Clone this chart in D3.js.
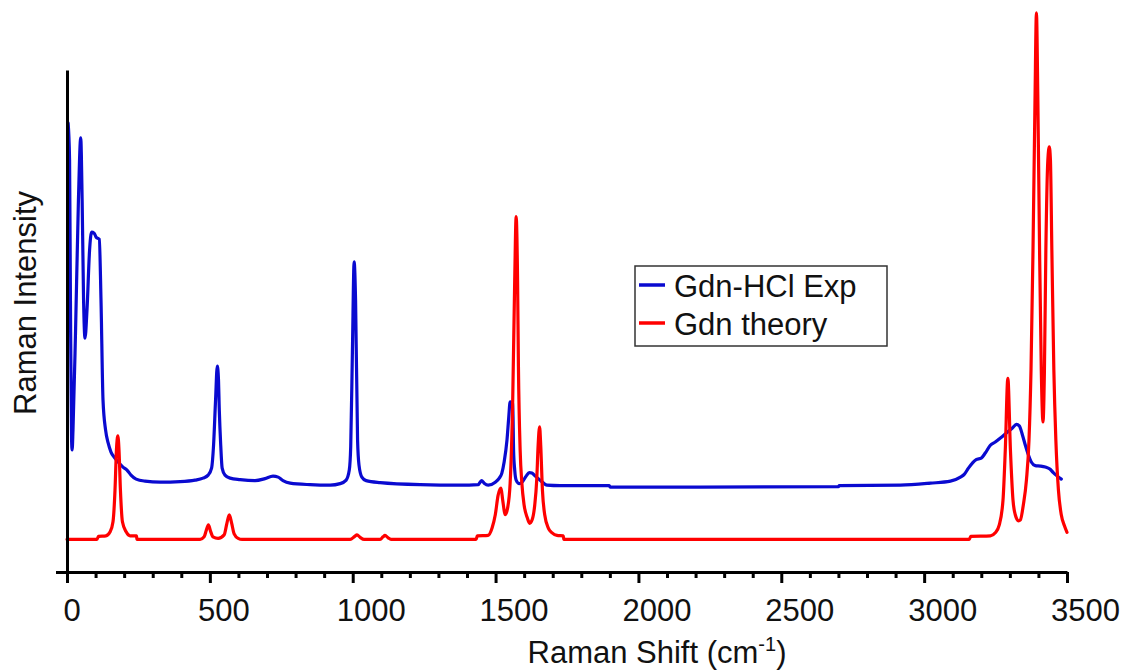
<!DOCTYPE html>
<html>
<head>
<meta charset="utf-8">
<script src="https://cdn.jsdelivr.net/npm/d3@7"></script>
<style>
  html, body { margin: 0; padding: 0; background: #ffffff; }
  svg { display: block; font-family: "Liberation Sans", Arial, sans-serif; }
</style>
</head>
<body>
<svg id="chart" width="1124" height="671"></svg>
<script>
// Measured Raman spectrum of guanidinium chloride: [shift (cm-1), intensity (a.u.)]
const expSpectrum = [
  [4, 89.4], [9, 82.1], [12, 54.2], [16, 26.3], [18, 24.3], [21, 28.3], [30, 48.2],
  [40, 74.1], [48, 86.5], [53, 74.1], [58, 54.2], [63, 46.6], [70, 52.2], [79, 64.1],
  [86, 67.7], [95, 67.5], [102, 66.7], [113, 66.3], [119, 54.2], [126, 34.3], [135, 28.3],
  [144, 25.7], [154, 23.9], [165, 22.9], [179, 21.9], [196, 20.9], [210, 20.3], [224, 19.3],
  [242, 18.5], [273, 18.1], [326, 17.9], [396, 18.0], [448, 18.3], [476, 18.7], [494, 19.3],
  [506, 20.7], [513, 25.3], [520, 34.3], [526, 41.0], [530, 38.6], [533, 32.3], [538, 25.3],
  [543, 20.7], [553, 19.3], [571, 18.7], [606, 18.4], [658, 18.2], [693, 18.6], [721, 19.1],
  [739, 18.9], [756, 18.2], [781, 17.7], [851, 17.4], [921, 17.3], [956, 17.6], [977, 18.3],
  [988, 20.3], [993, 25.0], [999, 44.2], [1005, 61.8], [1010, 54.2], [1017, 26.3], [1022, 21.3],
  [1032, 18.9], [1047, 18.2], [1096, 17.8], [1236, 17.4], [1376, 17.3], [1439, 17.4], [1451, 18.2],
  [1460, 17.7], [1474, 17.3], [1499, 17.9], [1513, 18.7], [1522, 19.7], [1530, 21.9], [1540, 26.3],
  [1546, 30.7], [1551, 33.9], [1560, 33.6], [1563, 24.3], [1567, 20.3], [1572, 18.3], [1583, 17.6],
  [1593, 17.9], [1607, 19.1], [1618, 19.8], [1627, 19.7], [1639, 19.1], [1656, 18.3], [1680, 17.3],
  [1726, 17.2], [1898, 17.2], [1901, 16.9], [2216, 16.9], [2700, 17.0], [2703, 17.2], [2917, 17.3],
  [3022, 17.7], [3092, 18.1], [3127, 18.9], [3141, 19.5], [3155, 20.7], [3182, 22.4], [3200, 22.7],
  [3214, 23.7], [3231, 25.2], [3249, 25.9], [3267, 26.7], [3286, 27.6], [3309, 28.7], [3323, 29.4],
  [3333, 29.1], [3344, 27.3], [3354, 25.3], [3365, 23.3], [3375, 21.9], [3389, 21.2], [3407, 21.1],
  [3424, 20.9], [3440, 20.5], [3452, 19.8], [3466, 19.1], [3480, 18.5]
];

// Calculated Raman spectrum of the guanidinium ion: [shift (cm-1), intensity (a.u.)]
const theorySpectrum = [
  [0, 6.5], [105, 6.5], [110, 7.1], [136, 7.2], [151, 8.0], [161, 10.0], [168, 16.3], [173, 24.3],
  [178, 27.1], [182, 24.3], [187, 16.3], [194, 10.0], [207, 8.0], [221, 7.2], [243, 7.2], [245, 6.5],
  [466, 6.5], [480, 7.0], [487, 8.2], [495, 9.4], [502, 8.2], [511, 7.0], [529, 6.7], [550, 7.4],
  [560, 9.8], [568, 11.4], [576, 9.8], [585, 7.6], [599, 6.7], [613, 6.5], [991, 6.5], [1007, 7.1],
  [1015, 7.4], [1026, 6.9], [1040, 6.5], [1096, 6.5], [1106, 7.0], [1113, 7.3], [1124, 6.8],
  [1134, 6.5], [1432, 6.5], [1436, 7.2], [1474, 7.3], [1488, 8.8], [1499, 11.4], [1509, 15.3],
  [1519, 16.7], [1525, 14.3], [1534, 11.4], [1542, 12.7], [1551, 17.7], [1560, 34.3], [1567, 58.2],
  [1572, 70.8], [1577, 58.2], [1580, 41.0], [1586, 24.3], [1592, 17.7], [1600, 13.3], [1611, 10.8],
  [1619, 9.7], [1628, 10.4], [1637, 13.3], [1644, 18.3], [1649, 25.3], [1654, 28.9], [1658, 25.3],
  [1664, 16.3], [1672, 11.4], [1685, 8.7], [1698, 7.8], [1715, 7.3], [1737, 7.2], [1739, 6.5],
  [3158, 6.5], [3163, 7.1], [3232, 7.2], [3249, 7.8], [3263, 9.4], [3276, 14.3], [3284, 24.3],
  [3293, 38.6], [3302, 24.3], [3311, 14.3], [3319, 11.4], [3330, 10.2], [3337, 10.4], [3347, 13.3],
  [3358, 18.3], [3367, 26.3], [3374, 40.2], [3381, 64.1], [3388, 94.0], [3393, 111.4], [3398, 94.0],
  [3404, 64.1], [3410, 40.2], [3416, 29.9], [3421, 40.2], [3426, 64.1], [3433, 82.1], [3438, 84.7],
  [3442, 82.1], [3447, 64.1], [3454, 40.2], [3461, 26.3], [3470, 16.3], [3480, 11.4], [3491, 9.2],
  [3500, 7.9]
];

const seriesNames = ["Gdn-HCl Exp", "Gdn theory"];
const seriesColors = ["#0a0ad0", "#ff0000"];
const xMajorTicks = [0, 500, 1000, 1500, 2000, 2500, 3000, 3500];
const xMinorTicks = d3.range(0, 3501, 100).filter(v => v % 500 !== 0);
const xTitle = "Raman Shift (cm";
const xTitleSup = "-1";
const yTitle = "Raman Intensity";

const svg = d3.select("#chart");

const x = d3.scaleLinear().domain([0, 3500]).range([67, 1067]);
const y = d3.scaleLinear().domain([0, 100]).range([572, 70]);

const line = d3.line()
  .x(d => x(d[0]))
  .y(d => y(d[1]))
  .curve(d3.curveMonotoneX);

// spectra: experiment underneath, theory on top
[expSpectrum, theorySpectrum].forEach((data, i) => {
  svg.append("path")
    .datum(data)
    .attr("d", line)
    .attr("fill", "none")
    .attr("stroke", seriesColors[i])
    .attr("stroke-width", 3.2)
    .attr("stroke-linejoin", "round")
    .attr("stroke-linecap", "round");
});

// minor x ticks
svg.append("g")
  .attr("transform", `translate(0,${y(0)})`)
  .call(d3.axisBottom(x).tickValues(xMinorTicks).tickSize(6).tickSizeOuter(0).tickFormat(""))
  .call(g => g.select(".domain").remove())
  .call(g => g.selectAll(".tick line").attr("stroke", "#000").attr("stroke-width", 3));

// major x ticks and labels
const xAxis = svg.append("g")
  .attr("transform", `translate(0,${y(0)})`)
  .call(d3.axisBottom(x).tickValues(xMajorTicks).tickSize(11).tickSizeOuter(0).tickFormat(d3.format("d")));
xAxis.select(".domain").attr("stroke", "#000").attr("stroke-width", 3);
xAxis.selectAll(".tick line").attr("stroke", "#000").attr("stroke-width", 3);
xAxis.selectAll(".tick text")
  .attr("fill", "#111")
  .attr("font-family", "'Liberation Sans', Arial, sans-serif")
  .attr("font-size", 31)
  .attr("y", 0)
  .attr("dy", 0)
  .attr("transform", function(d) { return `translate(${String(d).length * 4.5},49)`; });

// y axis: line with a single tick at zero
const yAxis = svg.append("g")
  .attr("transform", `translate(${x(0)},0)`)
  .call(d3.axisLeft(y).tickValues([0]).tickSize(11).tickSizeOuter(0).tickFormat(""));
yAxis.select(".domain").attr("stroke", "#000").attr("stroke-width", 3);
yAxis.selectAll(".tick line").attr("stroke", "#000").attr("stroke-width", 3);

// axis titles
const xt = svg.append("text")
  .attr("x", 657)
  .attr("y", 663)
  .attr("text-anchor", "middle")
  .attr("font-size", 31)
  .attr("fill", "#111");
xt.append("tspan").text(xTitle);
xt.append("tspan").attr("font-size", 20).attr("dy", -12).text(xTitleSup);
xt.append("tspan").attr("dy", 12).text(")");

svg.append("text")
  .attr("transform", "translate(36,303) rotate(-90)")
  .attr("text-anchor", "middle")
  .attr("font-size", 31)
  .attr("fill", "#111")
  .text(yTitle);

// legend
const legend = svg.append("g");
legend.append("rect")
  .attr("x", 635).attr("y", 266).attr("width", 252).attr("height", 80)
  .attr("fill", "#fff").attr("stroke", "#333").attr("stroke-width", 1.5);
seriesNames.forEach((name, i) => {
  const ly = 285 + i * 38;
  legend.append("line")
    .attr("x1", 639).attr("x2", 665).attr("y1", ly).attr("y2", ly)
    .attr("stroke", seriesColors[i]).attr("stroke-width", 3.5);
  legend.append("text")
    .attr("x", 674).attr("y", ly + 12)
    .attr("font-size", 31)
    .attr("fill", "#111")
    .text(name);
});
</script>
</body>
</html>
